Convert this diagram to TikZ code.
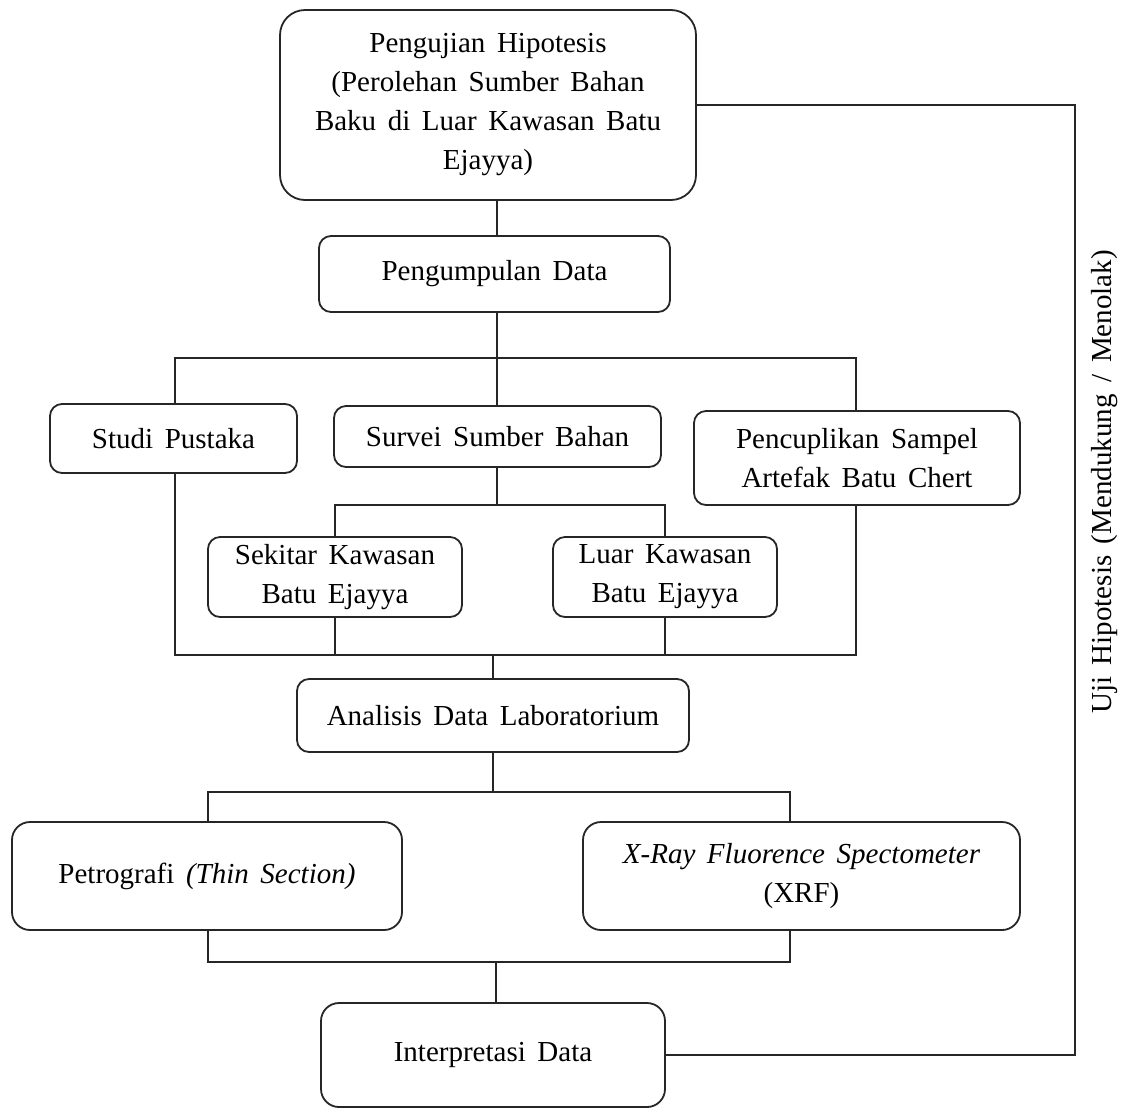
\documentclass[tikz,border=0pt]{standalone}
\usepackage{fontspec}
\setmainfont[WordSpace=1.6]{Liberation Serif}
\begin{document}
\begin{tikzpicture}[x=0.5pt,y=-0.5pt,
  box/.style={draw=black!85, line width=0.9pt, rectangle, rounded corners=6pt, align=center, inner sep=0pt,
    font=\fontsize{14.5}{19.5}\selectfont},
  link/.style={draw=black!85, line width=0.9pt},
  lbl/.style={font=\fontsize{14.5}{19.5}\selectfont, inner sep=0pt}]
\useasboundingbox (0,0) rectangle (1128,1109);
\fill[white] (0,0) rectangle (1128,1109);

% boxes
\node[box, rounded corners=12.5pt, minimum width=208pt, minimum height=95pt] (hyp) at (488,105)
  {Pengujian  Hipotesis\\(Perolehan  Sumber  Bahan\\Baku di Luar  Kawasan Batu\\Ejayya)};
\node[box, minimum width=175.5pt, minimum height=38pt] (pd) at (494.5,274) {Pengumpulan  Data};
\node[box, minimum width=123.5pt, minimum height=34.5pt] (studi) at (173.5,438.5) {Studi  Pustaka};
\node[box, minimum width=163.5pt, minimum height=30.5pt] (survei) at (497.5,436.5) {Survei  Sumber  Bahan};
\node[box, minimum width=163pt, minimum height=47pt] (pencup) at (857,458) {Pencuplikan  Sampel\\Artefak  Batu  Chert};
\node[box, minimum width=127pt, minimum height=40pt] (sekitar) at (335,577) {Sekitar  Kawasan\\Batu  Ejayya};
\node[box, minimum width=112pt, minimum height=40pt] (luar) at (665,577) {Luar  Kawasan\\Batu  Ejayya};
\node[box, minimum width=196pt, minimum height=36.5pt] (analisis) at (493,715.5) {Analisis  Data  Laboratorium};
\node[box, rounded corners=9pt, minimum width=195pt, minimum height=54pt] (petro) at (207,876) {Petrografi  \textit{(Thin Section)}};
\node[box, rounded corners=9pt, minimum width=218.5pt, minimum height=54pt] (xrf) at (801.5,876) {\textit{X-Ray Fluorence  Spectometer}\\(XRF)};
\node[box, rounded corners=9pt, minimum width=172pt, minimum height=52pt] (interp) at (493,1055) {Interpretasi  Data};

\node[lbl, rotate=90] (uji) at (1105,482) {Uji  Hipotesis  (Mendukung  / Menolak)};

% column coordinates
\coordinate (cS) at (175,0);
\coordinate (cP) at (856,0);
\coordinate (cK) at (335,0);
\coordinate (cL) at (665,0);
\coordinate (cPe) at (208,0);
\coordinate (cX) at (790,0);
\coordinate (fb) at (1075,0);
\coordinate (j1) at (497,358);
\coordinate (j2) at (497,505);
\coordinate (j3) at (493,655);
\coordinate (j4) at (493,792);
\coordinate (j5) at (496,962);

% connectors
\draw[link] (hyp.south -| j1) -- (pd.north -| j1);
\draw[link] (pd.south -| j1) -- (j1);
\draw[link] (studi.north -| cS) |- (j1) -| (pencup.north -| cP);
\draw[link] (j1) -- (survei.north -| j1);
\draw[link] (survei.south -| j2) -- (j2);
\draw[link] (sekitar.north -| cK) |- (j2) -| (luar.north -| cL);
\draw[link] (studi.south -| cS) |- (j3) -| (pencup.south -| cP);
\draw[link] (sekitar.south -| cK) -- (cK |- j3);
\draw[link] (luar.south -| cL) -- (cL |- j3);
\draw[link] (j3) -- (analisis.north -| j3);
\draw[link] (analisis.south -| j4) -- (j4);
\draw[link] (petro.north -| cPe) |- (j4) -| (xrf.north -| cX);
\draw[link] (petro.south -| cPe) |- (j5) -| (xrf.south -| cX);
\draw[link] (j5) -- (interp.north -| j5);
\draw[link] (interp.east) -| (fb |- hyp.east) -- (hyp.east);
\end{tikzpicture}
\end{document}
